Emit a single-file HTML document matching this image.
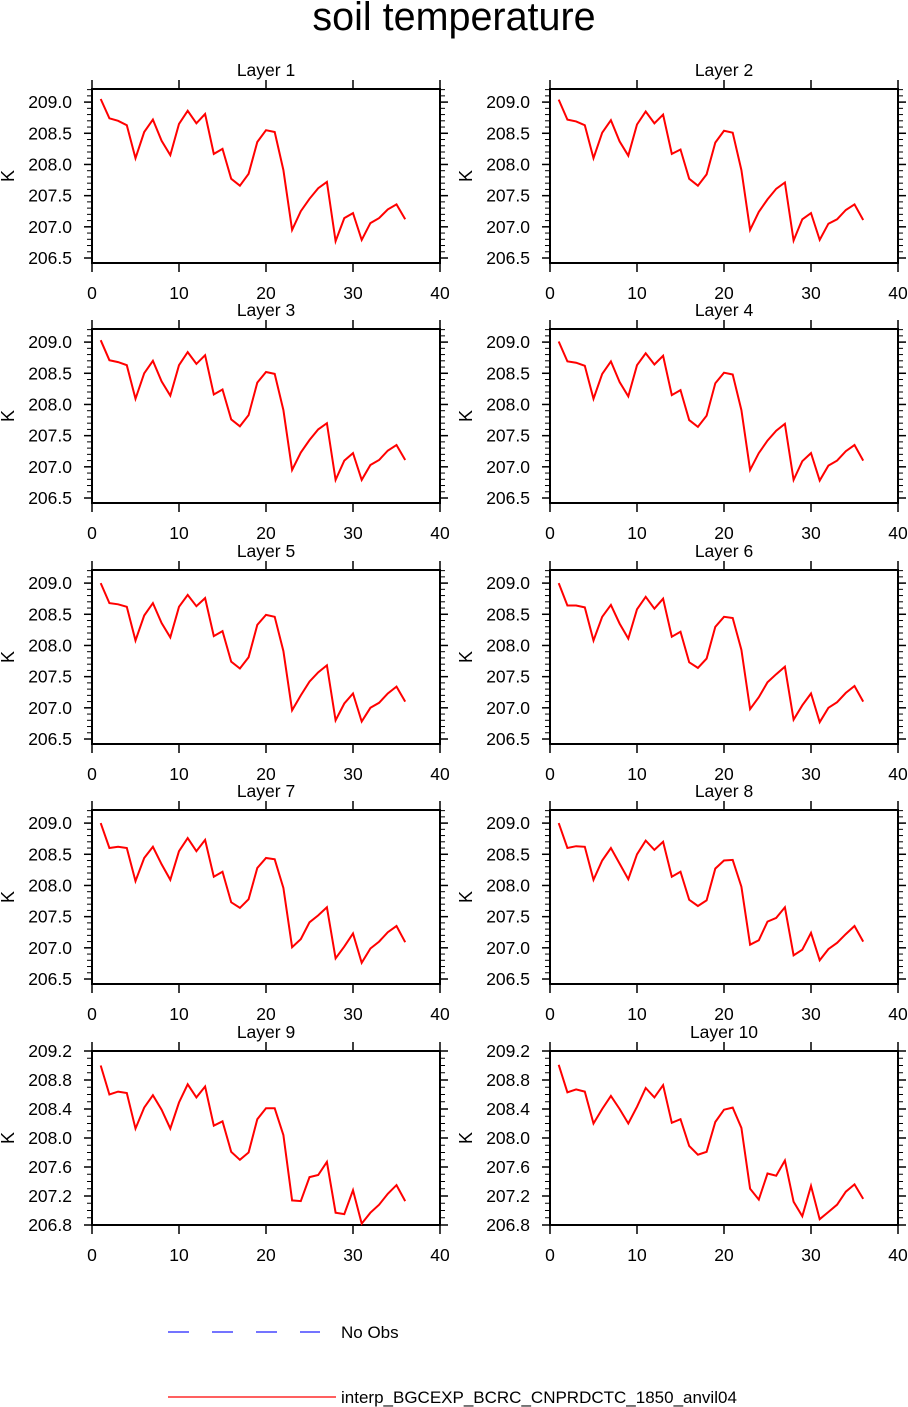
<!DOCTYPE html>
<html><head><meta charset="utf-8"><style>
body{margin:0;background:#fff;width:908px;height:1407px;overflow:hidden}
svg{display:block;font-family:"Liberation Sans",Arial,sans-serif}
</style></head><body>
<svg id="c" width="908" height="1407" xmlns="http://www.w3.org/2000/svg">
<text x="454" y="30" font-size="39.5" text-anchor="middle">soil temperature</text>
<g>
<line x1="168" y1="1332" x2="320" y2="1332" stroke="#2222ff" stroke-width="1.2" stroke-dasharray="21,23"/>
<text x="341" y="1338" font-size="17">No Obs</text>
<line x1="168" y1="1397" x2="336" y2="1397" stroke="#ff0000" stroke-width="1.2"/>
<text x="341" y="1403" font-size="17">interp_BGCEXP_BCRC_CNPRDCTC_1850_anvil04</text>
</g>
</svg>
<script>
const months = Array.from({length:36},(_,i)=>i+1);
const layer1 = [209.05,208.74,208.70,208.63,208.10,208.52,208.72,208.38,208.15,208.65,208.86,208.66,208.81,208.17,208.25,207.77,207.66,207.85,208.36,208.55,208.52,207.91,206.95,207.25,207.45,207.62,207.72,206.77,207.14,207.22,206.79,207.06,207.14,207.28,207.36,207.12];
const layer2 = [209.04,208.72,208.69,208.63,208.10,208.51,208.71,208.37,208.14,208.64,208.85,208.66,208.80,208.17,208.24,207.77,207.66,207.84,208.35,208.54,208.51,207.91,206.95,207.24,207.44,207.61,207.71,206.78,207.12,207.22,206.79,207.05,207.12,207.27,207.36,207.11];
const layer3 = [209.03,208.71,208.68,208.63,208.09,208.50,208.70,208.37,208.14,208.63,208.84,208.65,208.79,208.16,208.24,207.76,207.65,207.83,208.35,208.52,208.49,207.91,206.95,207.23,207.43,207.60,207.70,206.79,207.10,207.22,206.79,207.03,207.11,207.26,207.35,207.11];
const layer4 = [209.01,208.69,208.67,208.62,208.09,208.49,208.69,208.36,208.13,208.63,208.82,208.64,208.78,208.15,208.23,207.75,207.64,207.82,208.34,208.51,208.48,207.91,206.95,207.22,207.42,207.58,207.69,206.79,207.09,207.22,206.78,207.02,207.10,207.25,207.35,207.10];
const layer5 = [209.00,208.68,208.66,208.62,208.08,208.48,208.68,208.36,208.13,208.62,208.81,208.63,208.76,208.15,208.23,207.74,207.63,207.81,208.33,208.49,208.46,207.91,206.96,207.20,207.42,207.57,207.68,206.80,207.07,207.23,206.78,207.00,207.08,207.23,207.34,207.10];
const layer6 = [209.00,208.64,208.64,208.61,208.08,208.46,208.65,208.35,208.11,208.58,208.78,208.59,208.75,208.14,208.22,207.73,207.64,207.79,208.30,208.46,208.44,207.93,206.98,207.17,207.41,207.54,207.66,206.81,207.04,207.23,206.77,207.00,207.09,207.24,207.35,207.10];
const layer7 = [209.00,208.60,208.62,208.60,208.07,208.44,208.62,208.34,208.09,208.55,208.76,208.55,208.73,208.14,208.22,207.73,207.64,207.78,208.28,208.44,208.42,207.96,207.01,207.14,207.41,207.52,207.65,206.83,207.02,207.23,206.76,206.99,207.10,207.25,207.35,207.09];
const layer8 = [209.00,208.60,208.63,208.62,208.09,208.40,208.60,208.35,208.10,208.50,208.72,208.57,208.70,208.14,208.22,207.77,207.67,207.76,208.27,208.40,208.41,207.98,207.05,207.12,207.42,207.48,207.65,206.88,206.97,207.24,206.80,206.98,207.08,207.22,207.35,207.10];
const layer9 = [209.00,208.60,208.64,208.62,208.13,208.42,208.59,208.39,208.13,208.49,208.74,208.56,208.71,208.17,208.23,207.81,207.70,207.80,208.26,208.41,208.41,208.04,207.14,207.13,207.46,207.49,207.67,206.97,206.95,207.28,206.82,206.97,207.08,207.23,207.35,207.13];
const layer10 = [209.01,208.63,208.67,208.64,208.20,208.40,208.58,208.40,208.20,208.43,208.69,208.56,208.73,208.21,208.26,207.89,207.77,207.81,208.22,208.39,208.42,208.14,207.30,207.15,207.51,207.48,207.69,207.12,206.92,207.34,206.88,206.98,207.08,207.26,207.36,207.16];
const layers = [layer1,layer2,layer3,layer4,layer5,layer6,layer7,layer8,layer9,layer10];
const xTicks = [0,10,20,30,40];
const yTicksA = [206.5,207.0,207.5,208.0,208.5,209.0];
const yTicksB = [206.8,207.2,207.6,208.0,208.4,208.8,209.2];

const svg = document.getElementById('c');
const NS = 'http://www.w3.org/2000/svg';
function mk(tag, attrs, parent){const e=document.createElementNS(NS,tag);for(const k in attrs)e.setAttribute(k,attrs[k]);parent.appendChild(e);return e;}
const W=348,H=174;
for(let i=0;i<10;i++){
  const col=i%2,row=Math.floor(i/2);
  const X0=col?550:92, Y0=[89,329,570,810,1051][row];
  const lastRow=row===4;
  const yMin=lastRow?206.8:206.42, yMax=lastRow?209.2:209.21;
  const yTicks=lastRow?yTicksB:yTicksA;
  const sx=v=>X0+v/40*W;
  const sy=v=>Y0+(yMax-v)/(yMax-yMin)*H;
  const g=mk('g',{},svg);
  
  
  const t=mk('text',{x:X0+W/2,y:Y0-13,'font-size':17.5,'text-anchor':'middle'},g);
  t.textContent='Layer '+(i+1);
  
  
  const k=mk('text',{x:0,y:0,'font-size':18,'text-anchor':'middle',transform:`translate(${X0-78},${Y0+H/2}) rotate(-90)`},g);
  k.textContent='K';
  
  
  for(let v=Math.ceil(yMin*10)/10; v<=yMax+1e-9; v+=0.1){
    const y=sy(v);
    mk('line',{x1:X0-5,y1:y,x2:X0,y2:y,stroke:'#000','stroke-width':1},g);
    mk('line',{x1:X0+W,y1:y,x2:X0+W+5,y2:y,stroke:'#000','stroke-width':1},g);
  }
  yTicks.forEach(v=>{
    const y=sy(v);
    mk('line',{x1:X0-8,y1:y,x2:X0,y2:y,stroke:'#000','stroke-width':1.5},g);
    mk('line',{x1:X0+W,y1:y,x2:X0+W+8,y2:y,stroke:'#000','stroke-width':1.5},g);
    const l=mk('text',{x:X0-20,y:y+6,'font-size':17.5,'text-anchor':'end'},g);
    l.textContent=v.toFixed(1);
    
    
  });
  xTicks.forEach(v=>{
    const x=sx(v);
    mk('line',{x1:x,y1:Y0+H,x2:x,y2:Y0+H+9,stroke:'#000','stroke-width':1.5},g);
    mk('line',{x1:x,y1:Y0-9,x2:x,y2:Y0,stroke:'#000','stroke-width':1.5},g);
    const l=mk('text',{x:x,y:Y0+H+36,'font-size':17.5,'text-anchor':'middle'},g);
    l.textContent=v;
    
    
  });
  const f=mk('rect',{x:X0,y:Y0,width:W,height:H,fill:'none',stroke:'#000','stroke-width':2},g);
  
  
  const pts=layers[i].map((v,j)=>sx(months[j]).toFixed(1)+','+sy(v).toFixed(1)).join(' ');
  const pl=mk('polyline',{points:pts,fill:'none',stroke:'#ff0000','stroke-width':2,'stroke-linejoin':'miter'},g);
  
  
}
</script>
</body></html>
